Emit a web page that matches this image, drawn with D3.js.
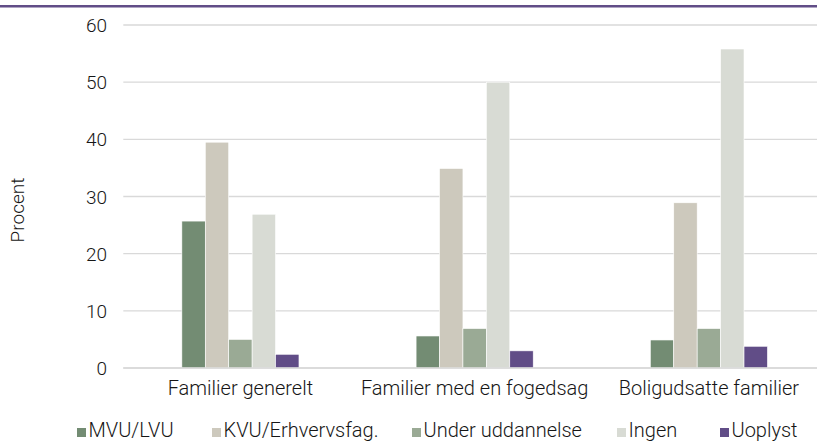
<!DOCTYPE html>
<html><head><meta charset="utf-8">
<script src="https://cdn.jsdelivr.net/npm/d3@7"></script>
<style>body{margin:0;background:#fff}svg{display:block}text{font-family:Roboto,"Noto Sans",sans-serif;font-weight:300;fill:#161616}</style>
</head><body><svg id="c" width="817" height="442"></svg>
<script>
const categories = ["Familier generelt","Familier med en fogedsag","Boligudsatte familier"];
const seriesNames = ["MVU/LVU","KVU/Erhvervsfag.","Under uddannelse","Ingen","Uoplyst"];
const mvu = [25.7, 5.6, 4.9];
const kvu = [39.5, 34.9, 28.9];
const under = [5.0, 6.9, 6.9];
const ingen = [26.9, 50.0, 55.8];
const uoplyst = [2.4, 3.0, 3.8];
const yTicks = [0,10,20,30,40,50,60];
const colors = ["#738c73","#cdc9bd","#9aaa95","#d8dbd4","#614d87"];
const seriesVals = [mvu,kvu,under,ingen,uoplyst];

const svg = d3.select("#c");
const L=123.3, R=826, T=25, B=368;
svg.append("rect").attr("x",0).attr("y",5).attr("width",817).attr("height",2.5).attr("fill","#614d87");
const x0 = d3.scaleBand().domain(categories).range([L,R]);
const x1 = d3.scaleBand().domain(seriesNames).range([0,x0.bandwidth()]).paddingOuter(2.5);
const y = d3.scaleLinear().domain([0,60]).range([B,T]);

svg.append("g").selectAll("line").data(yTicks).join("line")
  .attr("x1",L).attr("x2",817).attr("y1",d=>y(d)).attr("y2",d=>y(d))
  .attr("stroke","#d9d9d9").attr("stroke-width",1.3);
svg.append("g").selectAll("text").data(yTicks).join("text")
  .attr("x",107).attr("y",d=>y(d)+7).attr("text-anchor","end").attr("font-size",19).text(d=>d);

const g = svg.append("g");
categories.forEach((c,ci)=>{
  seriesNames.forEach((s,si)=>{
    const v = seriesVals[si][ci];
    g.append("rect").attr("x",x0(c)+x1(s)).attr("width",x1.bandwidth())
      .attr("y",y(v)).attr("height",y(0)-y(v)).attr("fill",colors[si])
      .attr("stroke","#fff").attr("stroke-width",0.6);
  });
});
svg.append("line").attr("x1",L).attr("x2",817).attr("y1",y(0)).attr("y2",y(0)).attr("stroke","#d9d9d9").attr("stroke-width",1.3);

svg.append("g").selectAll("text").data(categories).join("text")
  .attr("x",d=>x0(d)+x0.bandwidth()/2).attr("y",395).attr("text-anchor","middle").attr("font-size",20).text(d=>d);

svg.append("text").attr("transform","translate(24,210) rotate(-90)").attr("text-anchor","middle").attr("font-size",19).text("Procent");

const legX = [77,212,412,617,720];
const lg = svg.append("g").selectAll("g").data(seriesNames).join("g").attr("transform",(d,i)=>`translate(${legX[i]},0)`);
lg.append("rect").attr("x",0).attr("y",428).attr("width",9).attr("height",9).attr("fill",(d,i)=>colors[i]);
lg.append("text").attr("x",11.5).attr("y",437).attr("font-size",20).text(d=>d);
</script></body></html>
